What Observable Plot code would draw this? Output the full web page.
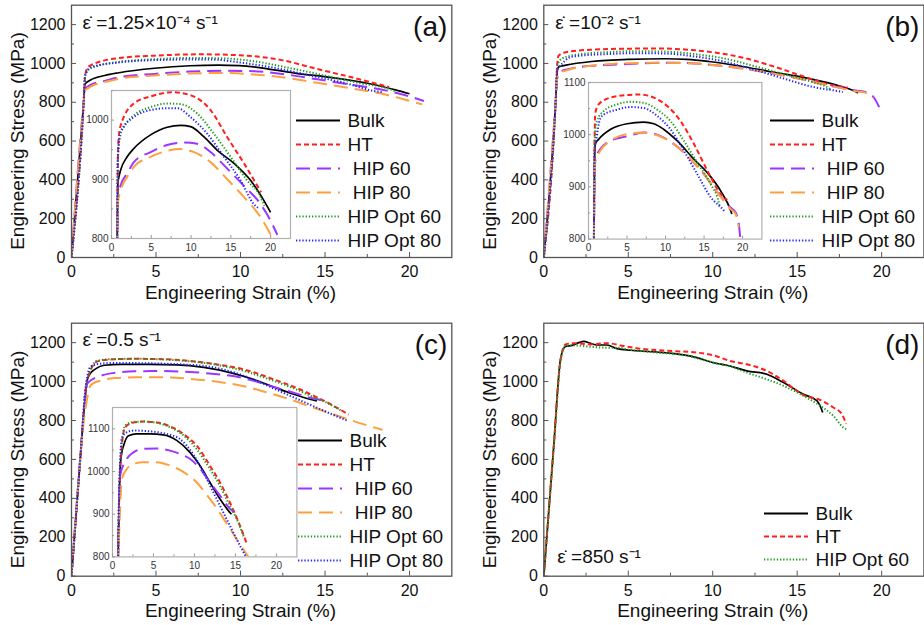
<!DOCTYPE html>
<html><head><meta charset="utf-8">
<script src="https://cdn.jsdelivr.net/npm/d3@7"></script>
<script src="https://cdn.jsdelivr.net/npm/@observablehq/plot@0.6"></script>
<style>
body{margin:0;background:#fff;}
#root{position:relative;width:924px;height:625px;overflow:hidden;background:#fff;}
#root > svg{position:absolute;}
</style></head><body><div id="root"></div>
<script>
// ---------- series ----------
const names = ["Bulk","HT","HIP 60","HIP 80","HIP Opt 60","HIP Opt 80"];
const legendText = ["Bulk","HT","\u00a0HIP 60","\u00a0HIP 80","HIP Opt 60","HIP Opt 80"];
const colors = ["#000000","#ff1f1f","#9b35ff","#ffa040","#1e9c1e","#2424ff"];
const dashes = [null,"5,3","14,7","14,7","1.3,1.9","1.3,1.9"];
const widths = [1.7,2,2,2,2,2];

// ---------- tick labels ----------
const strainTicks = [0,5,10,15,20];
const strainMinor = [2.5,7.5,12.5,17.5];
const stressTicks = [0,200,400,600,800,1000,1200];
const stressMinor = [100,300,500,700,900,1100];
const insetStrainTicks = [0,5,10,15,20];
const insetStrainMinor = [2.5,7.5,12.5,17.5];
const insetStressTicksA = [800,900,1000];
const insetStressTicksBC = [800,900,1000,1100];
const insetStressMinor = [850,950,1050];
const xTitle = "Engineering Strain (%)";
const yTitle = "Engineering Stress (MPa)";
const rates = ["\u03b5\u0307 =1.25\u00d710\u207b\u2074 s\u207b\u00b9","\u03b5\u0307 =10\u207b\u00b2 s\u207b\u00b9","\u03b5\u0307 =0.5 s\u207b\u00b9","\u03b5\u0307 =850 s\u207b\u00b9"];
const panelLabels = ["(a)","(b)","(c)","(d)"];

// ---------- data: [strain %, stress MPa] ----------
// (a) 1.25e-4 /s
const a_bulk = [[0,0],[0.72,800],[0.8,893],[1.0,908],[1.13,915],[1.97,938],[2.81,952],[4.91,975],[7.0,988],[8.7,991],[9.94,989],[11.6,972],[13.3,949],[15.4,927],[17.5,898],[19.16,864],[20.0,844]];
const a_ht = [[0,0],[0.72,800],[0.8,930],[0.9,970],[1.13,990],[2.81,1028],[4.91,1040],[7.63,1047],[9.94,1042],[12.45,1017],[14.55,971],[16.65,927],[18.8,878]];
const a_hip60 = [[0,0],[0.72,800],[0.8,868],[1.13,889],[1.97,910],[2.81,929],[4.91,946],[7.0,958],[9.1,962],[10.78,960],[12.45,946],[14.55,918],[16.65,889],[18.74,858],[20.0,830],[20.4,819],[20.85,806]];
const a_hip80 = [[0,0],[0.72,800],[0.78,858],[1.13,880],[1.97,904],[2.81,921],[4.91,938],[7.0,948],[8.68,951],[10.36,946],[12.45,929],[14.55,900],[16.65,870],[18.74,836],[20.2,802],[20.75,789]];
const a_opt60 = [[0,0],[0.72,800],[0.8,940],[1.13,975],[1.55,988],[2.81,1008],[4.91,1022],[7.0,1028],[8.68,1027],[10.78,1011],[12.87,977],[14.97,938],[17.06,898],[18.74,870],[19.2,855]];
const a_opt80 = [[0,0],[0.72,800],[0.8,935],[1.13,980],[2.81,1005],[4.91,1017],[7.0,1020],[8.3,1020],[9.94,1005],[12.03,977],[14.13,938],[16.23,898],[17.9,858],[18.4,852]];
// (b) 1e-2 /s
const b_bulk = [[0,0],[0.7,800],[0.8,960],[0.87,982],[1.31,991],[2.83,1010],[5.0,1021],[7.18,1024],[8.48,1021],[9.78,1010],[11.52,988],[13.69,953],[15.43,927],[17.17,892],[18.47,854],[18.6,848]];
const b_ht = [[0,0],[0.7,800],[0.8,1000],[0.87,1040],[1.31,1058],[2.83,1071],[5.0,1076],[6.74,1077],[8.48,1071],[10.21,1055],[11.95,1026],[13.69,982],[15.43,931],[17.17,886],[18.0,875]];
const b_hip60 = [[0,0],[0.7,800],[0.8,930],[0.87,953],[1.52,972],[2.83,988],[5.0,997],[7.18,1004],[8.91,1000],[11.09,982],[13.26,953],[15.0,924],[16.74,889],[18.47,860],[19.1,851],[19.56,822],[19.85,775]];
const b_hip80 = [[0,0],[0.7,800],[0.8,925],[0.87,946],[1.52,969],[2.83,988],[5.0,1001],[7.18,1004],[8.91,999],[11.09,982],[13.26,953],[15.0,924],[16.74,889],[18.47,857],[19.1,848],[19.5,823]];
const b_opt60 = [[0,0],[0.7,800],[0.8,990],[1.09,1026],[1.96,1045],[3.7,1058],[5.44,1063],[7.18,1061],[8.91,1048],[10.65,1026],[12.39,988],[14.13,946],[15.87,905],[16.95,867],[17.0,860]];
const b_opt80 = [[0,0],[0.7,800],[0.8,970],[1.0,990],[1.5,1030],[1.96,1038],[3.7,1048],[5.44,1053],[7.18,1051],[8.91,1036],[10.65,1010],[12.39,969],[14.13,924],[15.87,880],[17.6,854],[17.7,852]];
// (c) 0.5 /s
const c_bulk = [[0,0],[0.6,700],[0.75,860],[0.94,1010],[1.14,1045],[1.34,1060],[1.95,1084],[2.96,1088],[4.59,1088],[6.21,1086],[7.83,1073],[9.45,1045],[10.67,1014],[11.88,975],[13.1,936],[14.11,909],[14.52,900]];
const c_ht = [[0,0],[0.6,700],[0.8,930],[1.14,1061],[1.55,1104],[2.56,1115],[3.77,1117],[5.4,1115],[7.02,1106],[8.64,1088],[10.26,1061],[11.88,1014],[13.1,975],[14.31,928],[15.54,874],[16.4,830]];
const c_hip60 = [[0,0],[0.6,700],[0.8,900],[0.94,991],[1.75,1030],[2.56,1045],[3.77,1053],[5.4,1054],[7.02,1049],[8.64,1038],[9.45,1030],[10.67,1007],[11.88,975],[13.1,944],[14.31,913],[14.8,905]];
const c_hip80 = [[0,0],[0.6,680],[0.73,800],[0.9,900],[1.14,982],[1.75,1006],[2.56,1018],[3.77,1022],[5.4,1022],[7.02,1014],[8.64,999],[10.26,975],[11.48,946],[12.69,915],[14.0,876],[15.2,840],[16.3,808],[17.3,780],[18.4,752]];
const c_opt60 = [[0,0],[0.6,700],[0.8,940],[1.14,1065],[1.55,1108],[2.56,1116],[3.77,1117],[5.4,1114],[7.02,1104],[8.64,1085],[10.26,1053],[11.88,1006],[13.1,967],[14.31,920],[15.13,890],[16.0,848]];
const c_opt80 = [[0,0],[0.6,700],[0.8,940],[1.14,1078],[1.75,1092],[2.56,1096],[4.59,1094],[6.61,1088],[8.24,1076],[9.86,1040],[11.07,999],[12.29,952],[13.5,905],[14.72,858],[15.54,827],[16.3,800]];
// (d) 850 /s
const d_bulk = [[0,0],[0.59,670],[0.99,1115],[1.28,1180],[1.68,1186],[2.07,1200],[2.37,1207],[2.76,1197],[3.15,1188],[3.74,1188],[4.34,1169],[5.12,1161],[6.7,1152],[8.28,1137],[9.06,1123],[10.05,1097],[11.03,1080],[12.02,1055],[13.2,1038],[14.19,995],[15.37,935],[16.16,902],[16.35,876],[16.51,841]];
const d_ht = [[0,0],[0.59,670],[0.99,1110],[1.28,1191],[1.77,1197],[2.76,1191],[3.74,1197],[4.73,1183],[5.71,1169],[7.68,1157],[9.06,1149],[10.05,1135],[11.03,1106],[12.02,1089],[13.2,1055],[14.19,1004],[15.37,930],[16.35,906],[17.14,867],[17.64,833],[17.9,783]];
const d_opt60 = [[0,0],[0.59,660],[0.99,1105],[1.28,1183],[1.77,1186],[2.76,1179],[3.74,1174],[4.34,1174],[5.12,1163],[6.7,1149],[8.28,1137],[10.05,1097],[11.03,1078],[12.02,1046],[13.2,1012],[14.19,978],[15.37,927],[16.35,876],[17.14,824],[17.73,764],[17.9,756]];

const panels = [
  {series: [[0,a_bulk],[1,a_ht],[2,a_hip60],[3,a_hip80],[4,a_opt60],[5,a_opt80]]},
  {series: [[0,b_bulk],[1,b_ht],[2,b_hip60],[3,b_hip80],[4,b_opt60],[5,b_opt80]]},
  {series: [[0,c_bulk],[1,c_ht],[2,c_hip60],[3,c_hip80],[4,c_opt60],[5,c_opt80]]},
  {series: [[0,d_bulk],[1,d_ht],[4,d_opt60]]}
];

// ---------- layout ----------
const FONT = "'Liberation Sans', Arial, Helvetica, sans-serif";
const fmt = d => String(d);
const mainBoxes = [
  {left:0, top:0, w:460, h:310, fx0:71, fx1:451.3, fy0:4.7, fy1:257},
  {left:460, top:0, w:464, h:310, fx0:543.3, fx1:923.4, fy0:4.7, fy1:257},
  {left:0, top:310, w:460, h:315, fx0:71, fx1:451.3, fy0:322.7, fy1:575.7},
  {left:460, top:310, w:464, h:315, fx0:543.3, fx1:923.4, fy0:322.7, fy1:575.7}
];
const rateAnchor = [
  {frameAnchor:"top-left", dx:11, dy:18},
  {frameAnchor:"top-left", dx:11.5, dy:18},
  {frameAnchor:"top-left", dx:11, dy:16.5},
  {frameAnchor:"bottom-left", dx:13.5, dy:-19}
];
const insetBoxes = [
  {panel:0, fx0:111, fx1:290, fy0:90, fy1:238, ydom:[800,1050], yt:insetStressTicksA},
  {panel:1, fx0:588.3, fx1:761.7, fy0:81.7, fy1:238.3, ydom:[800,1100], yt:insetStressTicksBC},
  {panel:2, fx0:112.3, fx1:296.7, fy0:407.3, fy1:556.7, ydom:[800,1150], yt:insetStressTicksBC}
];
const legendBoxes = [
  {panel:0, left:296, top:107.3, step:24.3},
  {panel:1, left:770, top:107, step:24.2},
  {panel:2, left:297.7, top:428, step:24.15},
  {panel:3, left:764, top:499.7, step:23.8}
];

const root = document.getElementById("root");
function place(svg, left, top) {
  svg.style.left = left + "px";
  svg.style.top = top + "px";
  root.appendChild(svg);
}
function curveMarks(series) {
  return series.map(([i, pts]) => Plot.line(pts, {
    x: d => d[0], y: d => d[1], stroke: colors[i], strokeWidth: widths[i],
    strokeDasharray: dashes[i], strokeLinecap: "butt", curve: "monotone-x", clip: true
  }));
}

// ---------- main panels ----------
panels.forEach((p, k) => {
  const b = mainBoxes[k];
  const svg = Plot.plot({
    width: b.w, height: b.h,
    marginLeft: b.fx0 - b.left, marginRight: b.left + b.w - b.fx1,
    marginTop: b.fy0 - b.top, marginBottom: b.top + b.h - b.fy1,
    x: {domain: [0, 22.5]},
    y: {domain: [0, 1300]},
    style: {fontFamily: FONT, background: "transparent", color: "#111", overflow: "visible"},
    marks: [
      ...curveMarks(p.series),
      Plot.frame({stroke: "#555", strokeWidth: 1.3}),
      Plot.axisX({ticks: strainTicks, tickFormat: fmt, tickSize: -5, tickPadding: 13, fontSize: 16, label: null, stroke: "#555"}),
      Plot.axisX({ticks: strainMinor, tickSize: -3, tickFormat: () => "", label: null, stroke: "#555"}),
      Plot.axisY({ticks: stressTicks, tickFormat: fmt, tickSize: -5, tickPadding: 11, fontSize: 16, label: null, stroke: "#555"}),
      Plot.axisY({ticks: stressMinor, tickSize: -3, tickFormat: () => "", label: null, stroke: "#555"}),
      Plot.text([xTitle], {text: d => d, x: 10, frameAnchor: "bottom", dy: 35, fontSize: 19, textAnchor: "middle", lineAnchor: "middle"}),
      Plot.text([yTitle], {text: d => d, y: 600, frameAnchor: "left", dx: -53.5, rotate: -90, fontSize: 19, textAnchor: "middle", lineAnchor: "middle"}),
      Plot.text([rates[k]], {text: d => d, ...rateAnchor[k], textAnchor: "start", lineAnchor: "middle", fontSize: 19}),
      Plot.text([panelLabels[k]], {text: d => d, frameAnchor: "top-right", dx: -4.5, dy: 22, textAnchor: "end", lineAnchor: "middle", fontSize: 28})
    ]
  });
  place(svg, b.left, b.top);
});

// ---------- insets ----------
insetBoxes.forEach(ib => {
  const ml = 34, mt = 10, mr = 8, mb = 22;
  const svg = Plot.plot({
    width: (ib.fx1 - ib.fx0) + ml + mr, height: (ib.fy1 - ib.fy0) + mt + mb,
    marginLeft: ml, marginRight: mr, marginTop: mt, marginBottom: mb,
    x: {domain: [0, 22.5]},
    y: {domain: ib.ydom},
    style: {fontFamily: FONT, background: "transparent", color: "#333", overflow: "visible"},
    marks: [
      ...curveMarks(panels[ib.panel].series),
      Plot.frame({stroke: "#b0b0b0", strokeWidth: 1.2}),
      Plot.axisX({ticks: insetStrainTicks, tickFormat: fmt, tickSize: -3, tickPadding: 8, fontSize: 10, label: null, stroke: "#999"}),
      Plot.axisX({ticks: insetStrainMinor, tickSize: -2, tickFormat: () => "", label: null, stroke: "#999"}),
      Plot.axisY({ticks: ib.yt, tickFormat: fmt, tickSize: -3, tickPadding: 6, fontSize: 10, label: null, stroke: "#999"}),
      Plot.axisY({ticks: insetStressMinor, tickSize: -2, tickFormat: () => "", label: null, stroke: "#999"})
    ]
  });
  place(svg, ib.fx0 - ml, ib.fy0 - mt);
});

// ---------- legends ----------
legendBoxes.forEach(lb => {
  const idx = panels[lb.panel].series.map(s => s[0]);
  const labels = idx.map(i => legendText[i]);
  const n = labels.length;
  const svg = Plot.plot({
    width: 160, height: 24 + lb.step * (n - 1),
    margin: 0,
    x: {domain: [0, 160], range: [0, 160], axis: null},
    y: {type: "point", domain: labels, range: [12, 12 + lb.step * (n - 1)], padding: 0, axis: null},
    style: {fontFamily: FONT, background: "transparent", color: "#111", overflow: "visible"},
    marks: [
      ...idx.map(i => Plot.ruleY([legendText[i]], {y: d => d, x1: 0, x2: 44, stroke: colors[i], strokeWidth: widths[i] + 0.2, strokeDasharray: dashes[i], strokeLinecap: "butt"})),
      Plot.text(labels, {text: d => d, y: d => d, x: 51, textAnchor: "start", lineAnchor: "middle", fontSize: 19})
    ]
  });
  place(svg, lb.left, lb.top);
});
</script>
</body></html>
